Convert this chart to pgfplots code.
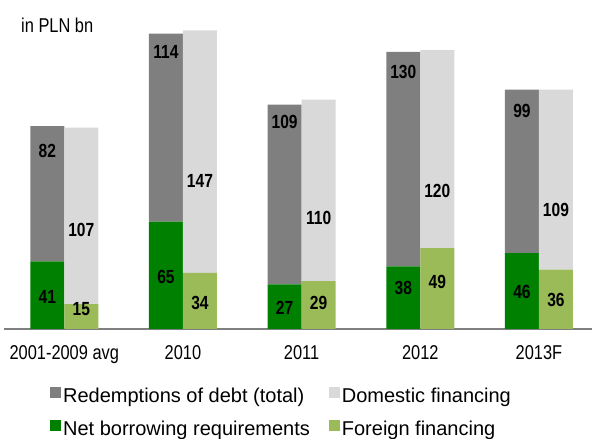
\documentclass[border=0pt]{standalone}
\usepackage{pgfplots}
\pgfplotsset{compat=1.18}
\usepackage{fontspec}
\setmainfont{Liberation Sans}
\newfontfamily\narrow[FakeStretch=0.82]{Liberation Sans}
\definecolor{dgray}{HTML}{7F7F7F}
\definecolor{lgray}{HTML}{D9D9D9}
\definecolor{dgreen}{HTML}{008000}
\definecolor{lgreen}{HTML}{9BBB59}
\tikzset{lbl/.style={font=\narrow\bfseries\fontsize{19}{22}\selectfont, inner sep=0pt, text=black}}
\begin{document}
\begin{tikzpicture}
\useasboundingbox (0,0) rectangle (592pt,439pt);
\pgfplotsset{common/.style={width=588pt, height=313.5pt, scale only axis,
  xmin=-0.508, xmax=4.447, ymin=0, ymax=190, bar width=34pt,
  at={(4pt,110pt)}, anchor=south west, clip=false}}
% left stacks
\begin{axis}[common, ybar stacked, bar shift=-17pt,
  axis x line*=bottom, axis y line=none,
  x axis line style={draw=dgray, line width=1.5pt, -},
  xtick={0,1,2,3,4}, xticklabels={2001-2009 avg,2010,2011,2012,2013F},
  major tick length=0pt, ytick=\empty,
  xticklabel style={font=\narrow\fontsize{20}{24}\selectfont, yshift=-13pt}]
\addplot[fill=dgreen, draw=none] coordinates {(0,41)(1,65)(2,27)(3,38)(4,46)};
\addplot[fill=dgray, draw=none] coordinates {(0,82)(1,114)(2,109)(3,130)(4,99)};
\end{axis}
% right stacks
\begin{axis}[common, ybar stacked, bar shift=17pt, axis lines=none,
  legend style={at={(0.073,-0.175)}, anchor=north west, draw=none, fill=none,
    font=\fontsize{20}{24}\selectfont, row sep=13pt,
    /tikz/every even column/.append style={column sep=17pt}},
  legend columns=2, legend cell align=left,
  legend image code/.code={\fill[#1] (0.5pt,-2pt) rectangle (11.5pt,9pt);}]
\addplot[fill=lgreen, draw=none, forget plot] coordinates {(0,15)(1,34)(2,29)(3,49)(4,36)};
\addplot[fill=lgray, draw=none, forget plot] coordinates {(0,107)(1,147)(2,110)(3,120)(4,109)};
\addlegendimage{fill=dgray, draw=none}
\addlegendentry{Redemptions of debt (total)}
\addlegendimage{fill=lgray, draw=none}
\addlegendentry{Domestic financing}
\addlegendimage{fill=dgreen, draw=none}
\addlegendentry{Net borrowing requirements}
\addlegendimage{fill=lgreen, draw=none}
\addlegendentry{Foreign financing}
\end{axis}
% value labels
\begin{axis}[common, axis lines=none]
\node[lbl, xshift=-17pt] at (axis cs:0,107.8) {82};
\node[lbl, xshift=-17pt] at (axis cs:1,167.6) {114};
\node[lbl, xshift=-17pt] at (axis cs:2,125.6) {109};
\node[lbl, xshift=-17pt] at (axis cs:3,156) {130};
\node[lbl, xshift=-17pt] at (axis cs:4,132) {99};
\node[lbl, xshift=-17pt] at (axis cs:0,19.6) {41};
\node[lbl, xshift=-17pt] at (axis cs:1,31.5) {65};
\node[lbl, xshift=-17pt] at (axis cs:2,12.8) {27};
\node[lbl, xshift=-17pt] at (axis cs:3,25) {38};
\node[lbl, xshift=-17pt] at (axis cs:4,22.7) {46};
\node[lbl, xshift=17pt] at (axis cs:0,60.2) {107};
\node[lbl, xshift=17pt] at (axis cs:1,90) {147};
\node[lbl, xshift=17pt] at (axis cs:2,67.3) {110};
\node[lbl, xshift=17pt] at (axis cs:3,83.5) {120};
\node[lbl, xshift=17pt] at (axis cs:4,72.3) {109};
\node[lbl, xshift=17pt] at (axis cs:0,12.2) {15};
\node[lbl, xshift=17pt] at (axis cs:1,16) {34};
\node[lbl, xshift=17pt] at (axis cs:2,16) {29};
\node[lbl, xshift=17pt] at (axis cs:3,28.8) {49};
\node[lbl, xshift=17pt] at (axis cs:4,17.6) {36};
\end{axis}
\node[anchor=base west, inner sep=0pt, font=\narrow\fontsize{20}{24}\selectfont] at (21pt,406.5pt) {in PLN bn};
\end{tikzpicture}
\end{document}
